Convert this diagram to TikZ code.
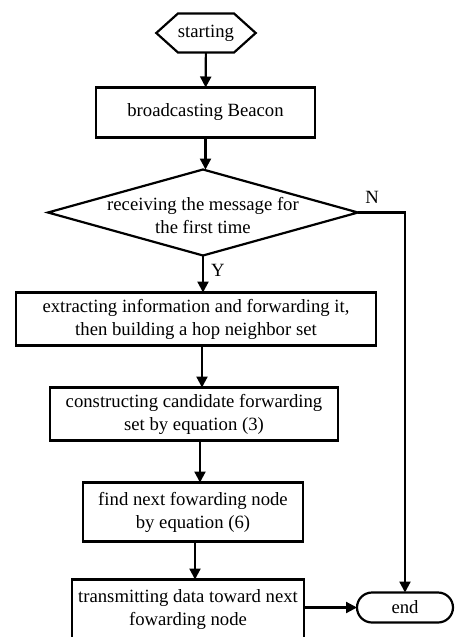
\documentclass[tikz,border=0pt]{standalone}
\usepackage{fontspec}
\setmainfont{Liberation Serif}
\usetikzlibrary{positioning, shapes.geometric, shapes.symbols, shapes.misc, arrows.meta}

\newcommand{\flowfont}{\fontsize{18.7}{23}\selectfont}

\begin{document}
\begin{tikzpicture}[
      x=1pt, y=1pt,
      term/.style={signal, signal to=west and east, signal pointer angle=84,
                   draw=black, line width=2.2pt, minimum width=92pt,
                   minimum height=39pt, inner sep=0pt, outer sep=0pt,
                   font=\flowfont},
      proc/.style={rectangle, draw=black, line width=2.2pt, align=center,
                   inner sep=0pt, outer sep=0pt, font=\flowfont},
      dec/.style={diamond, draw=black, line width=2.2pt, inner sep=0pt,
                  outer sep=0pt, minimum width=310pt, minimum height=86pt},
      fin/.style={rounded rectangle, draw=black, line width=2.2pt,
                  minimum width=96pt, minimum height=30pt, inner sep=0pt,
                  outer sep=0pt, font=\flowfont},
      flow/.style={draw=black, line width=2.2pt,
                   -{Triangle[length=11pt,width=11pt]}},
      elab/.style={font=\flowfont, inner sep=1pt},
    ]

    % ---- page ------------------------------------------------------
    \useasboundingbox (-206,33) rectangle (254,-604);
    \clip (-206,33) rectangle (254,-604);

    % ---- main spine ------------------------------------------------
    \node[term] (start) {starting};
    \node[proc, minimum width=219pt, minimum height=50pt,
          below=35pt of start, xshift=-0.5pt] (bcast) {broadcasting Beacon};
    \node[dec, below=32pt of bcast, xshift=-2.5pt,
          label={[align=center, font=\flowfont, yshift=-3pt]center:{receiving the message for\\the first time}}] (chk) {};
    \node[proc, minimum width=360pt, minimum height=53pt,
          below=37pt of chk, xshift=-7pt] (ext)
      {extracting information and forwarding it,\\then building a hop neighbor set};
    \node[proc, minimum width=288pt, minimum height=53pt,
          below=42pt of ext, xshift=-2pt] (cons)
      {constructing candidate forwarding\\set by equation (3)};
    \node[proc, minimum width=220pt, minimum height=59pt,
          below=42pt of cons, xshift=-1pt] (find)
      {find next fowarding node\\by equation (6)};
    \node[proc, minimum width=232pt, minimum height=60pt,
          below=38pt of find, xshift=-5pt] (tx)
      {transmitting data toward next\\fowarding node};
    \node[fin, right=53pt of tx, yshift=2pt] (end) {end};

    % ---- forward flow ----------------------------------------------
    \draw[flow] (start) -- (bcast);
    \draw[flow] (bcast.south) -- (bcast.south |- chk.north);
    \draw[flow] (chk.south) -- node[elab, right=6pt, pos=0.4] {Y}
      (chk.south |- ext.north);
    \draw[flow] ([xshift=6pt]ext.south) -- ([xshift=6pt]ext.south |- cons.north);
    \draw[flow] ([xshift=6pt]cons.south) -- ([xshift=6pt]cons.south |- find.north);
    \draw[flow] ([xshift=2pt]find.south) -- ([xshift=2pt]find.south |- tx.north);
    \draw[flow] (tx.east |- end.west) -- (end.west);

    % ---- no branch -------------------------------------------------
    \draw[flow] (chk.east) -| node[elab, above=7pt, pos=0.15] {N} (end.north);

  \end{tikzpicture}
\end{document}
